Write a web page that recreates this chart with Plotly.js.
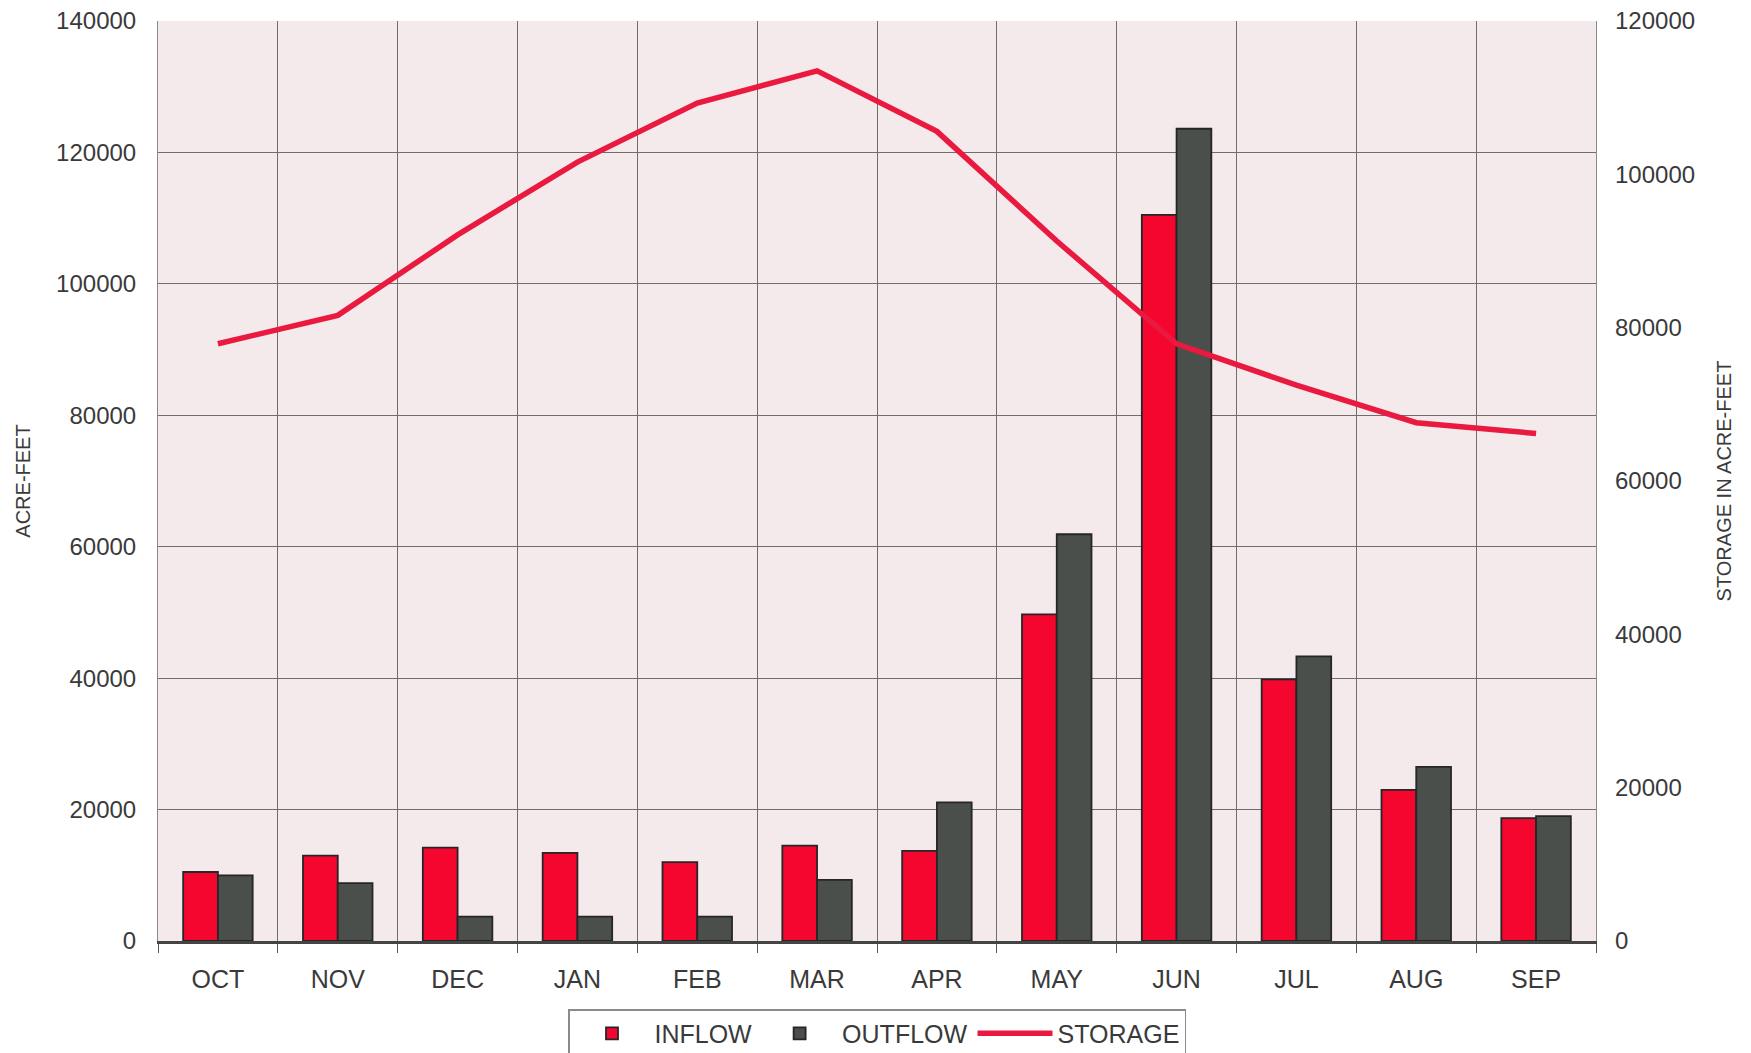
<!DOCTYPE html>
<html>
<head>
<meta charset="utf-8">
<script src="https://cdn.plot.ly/plotly-3.0.1.min.js"></script>
<style>
html,body{margin:0;padding:0;background:#ffffff;}
#chart{width:1751px;height:1053px;}
</style>
</head>
<body>
<div id="chart"></div>
<script>
const months = ["OCT","NOV","DEC","JAN","FEB","MAR","APR","MAY","JUN","JUL","AUG","SEP"];
const inflow = [10500, 13000, 14200, 13400, 12000, 14500, 13700, 49700, 110500, 39800, 23000, 18700];
const outflow = [10000, 8800, 3700, 3700, 3700, 9300, 21100, 61900, 123600, 43300, 26500, 19000];
const storage = [77900, 81600, 92100, 101600, 109300, 113500, 105600, 91300, 77900, 72500, 67600, 66200];

const fontFam = "Liberation Sans, Arial, Helvetica, sans-serif";
const textCol = "#3a3a3a";

const traces = [
  {
    type: "bar", name: "INFLOW", x: months, y: inflow,
    marker: {color: "#f5062e", line: {color: "#262626", width: 1.8}},
    yaxis: "y"
  },
  {
    type: "bar", name: "OUTFLOW", x: months, y: outflow,
    marker: {color: "#4a4f4b", line: {color: "#262626", width: 1.8}},
    yaxis: "y"
  },
  {
    type: "scatter", mode: "lines", name: "STORAGE", x: months, y: storage,
    line: {color: "#e9193f", width: 5.5},
    yaxis: "y2"
  }
];

const layout = {
  width: 1751, height: 1053,
  margin: {l: 158, r: 155, t: 21, b: 112, pad: 0, autoexpand: false},
  paper_bgcolor: "#ffffff",
  plot_bgcolor: "#f4e9eb",
  font: {family: fontFam, color: textCol, size: 24},
  barmode: "group",
  bargap: 0.42,
  bargroupgap: 0,
  showlegend: true,
  legend: {
    orientation: "h",
    x: 0.5, xanchor: "center",
    y: -0.074, yanchor: "top",
    bordercolor: "#8a8a8a", borderwidth: 1.5,
    bgcolor: "#ffffff",
    font: {family: fontFam, size: 25, color: textCol},
    itemwidth: 75,
    traceorder: "normal"
  },
  xaxis: {
    type: "category",
    tickson: "boundaries",
    showgrid: true, gridcolor: "#6e6e6e", gridwidth: 1,
    ticks: "outside", ticklen: 9, tickcolor: "#555555", tickwidth: 1,
    showline: true, linecolor: "#444444", linewidth: 3,
    mirror: false,
    tickfont: {family: fontFam, size: 25, color: textCol},
    ticklabelstandoff: 14,
    zeroline: false
  },
  yaxis: {
    range: [0, 140000], dtick: 20000, tickformat: "d",
    showgrid: true, gridcolor: "#6e6e6e", gridwidth: 1,
    zeroline: false,
    showline: true, linecolor: "#8a8a8a", linewidth: 1, mirror: true,
    ticks: "", ticklabelstandoff: 16,
    tickfont: {family: fontFam, size: 24, color: textCol},
    title: {text: "ACRE-FEET", font: {family: fontFam, size: 20, color: textCol}, standoff: 20}
  },
  yaxis2: {
    overlaying: "y", side: "right",
    range: [0, 120000], dtick: 20000, tickformat: "d",
    showgrid: false, zeroline: false, showline: false,
    ticks: "", ticklabelstandoff: 18,
    tickfont: {family: fontFam, size: 24, color: textCol},
    title: {text: "STORAGE IN ACRE-FEET", font: {family: fontFam, size: 20, color: textCol}, standoff: 22}
  }
};

Plotly.newPlot("chart", traces, layout, {displayModeBar: false, staticPlot: true});
</script>
</body>
</html>
